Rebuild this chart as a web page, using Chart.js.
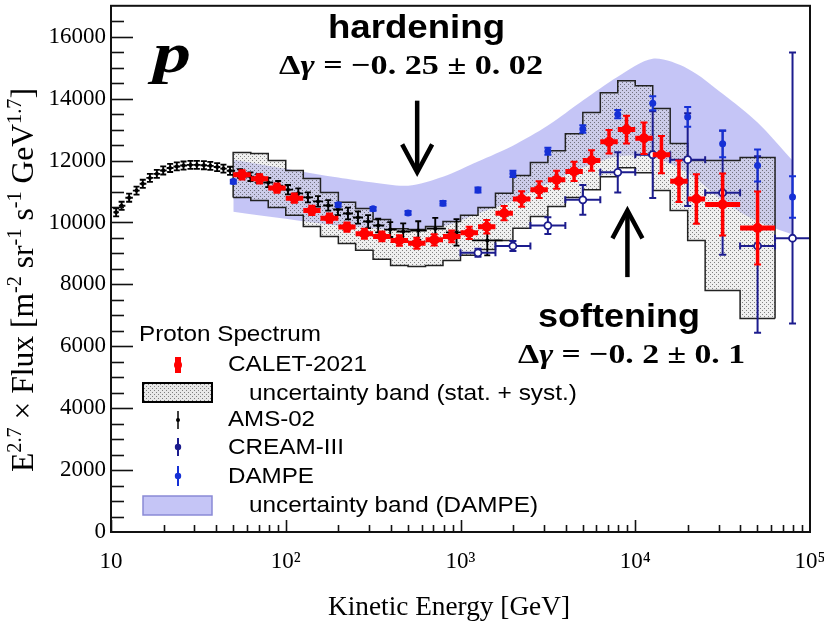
<!DOCTYPE html>
<html>
<head>
<meta charset="utf-8">
<title>Proton Spectrum</title>
<script src="https://cdn.jsdelivr.net/npm/chart.js@4.4.1/dist/chart.umd.min.js"></script>
<style>
  html, body { margin: 0; padding: 0; background: #fff; }
  canvas { display: block; }
</style>
</head>
<body>
<canvas id="spectrum" width="824" height="622"></canvas>
<script>
// values: kinetic energy in GeV, E^2.7 x flux
var amsEnergy = [10.7, 11.5, 12.7, 14.0, 15.2, 16.7, 18.3, 19.9, 21.8, 23.8, 26, 28.5, 31, 34, 37, 40.5, 44, 48,
  54.8, 62.8, 69.6, 79.4, 90.5, 103, 118, 134, 153, 175, 199, 227, 259, 296, 338, 396, 470, 573, 717, 949, 1423];
var amsFlux = [10330, 10540, 10800, 11030, 11250, 11440, 11570, 11680, 11760, 11810, 11840, 11860, 11860, 11850, 11830, 11790, 11740, 11670,
  11580, 11480, 11420, 11290, 11190, 11060, 10940, 10810, 10680, 10550, 10420, 10290, 10160, 10030, 9900, 9770, 9710, 9740, 9800, 9680, 9420];
var amsErr = [130, 130, 130, 130, 130, 130, 130, 130, 130, 130, 130, 130, 130, 130, 130, 130, 130, 130,
  140, 140, 140, 150, 150, 150, 160, 160, 170, 170, 180, 190, 200, 210, 220, 240, 260, 300, 350, 430, 480];

var caletEnergy = [56.2, 70.8, 89.1, 112, 141, 178, 224, 282, 355, 447, 562, 708, 891, 1122, 1413, 1778, 2239,
  2818, 3548, 4467, 5623, 7079, 8913, 11220, 14125, 17783, 22387, 31623, 50119];
var caletFlux = [11540, 11410, 11110, 10785, 10390, 10140, 9850, 9635, 9550, 9420, 9330, 9440, 9550, 9665, 9860, 10300, 10760,
  11060, 11380, 11650, 12000, 12610, 13000, 12720, 12190, 11330, 10760, 10580, 9820];
var caletErr = [150, 150, 150, 150, 150, 150, 150, 160, 160, 170, 180, 180, 190, 200, 220, 230, 250,
  270, 290, 310, 330, 380, 450, 510, 600, 670, 800, 1000, 1180];
var caletEdges = [50, 63.1, 79.4, 100, 126, 158, 200, 251, 316, 398, 501, 631, 794, 1000, 1259, 1585, 1995, 2512,
  3162, 3981, 5012, 6310, 7943, 10000, 12589, 15849, 19953, 25119, 39811, 63096];
var caletBandHigh = [12260, 12230, 12000, 11680, 11420, 10970, 10650, 10450, 10100, 9800, 9770, 9870, 10030, 10230, 10480, 10940, 11520,
  11940, 12320, 12870, 13550, 14190, 14580, 14420, 13680, 12550, 12000, 12000, 12100];
var caletBandLow = [10810, 10710, 10480, 10230, 9870, 9550, 9320, 9100, 8810, 8610, 8580, 8610, 8770, 8940, 9130, 9420, 9810,
  10190, 10520, 10810, 11060, 11480, 11770, 11610, 11030, 10390, 9420, 7800, 6900];

var creamEnergy = [1259, 1995, 3162, 5012, 7943, 12589, 19953, 31623, 50119, 79433];
var creamEdges = [1000, 1585, 2512, 3981, 6310, 10000, 15849, 25119, 39811, 63096, 100000];
var creamFlux = [9020, 9240, 9900, 10730, 11620, 12190, 12030, 10960, 9240, 9490];
var creamErrLow = [130, 160, 270, 480, 650, 1400, 1500, 2000, 2800, 2750];
var creamErrHigh = [130, 160, 270, 480, 650, 1400, 1500, 2000, 2900, 6000];

var dampeEnergy = [50.1, 199.5, 316, 501, 794, 1259, 1995, 3162, 5012, 7943, 12589, 19953, 31623, 50119, 79433];
var dampeFlux = [11320, 10570, 10440, 10310, 10620, 11050, 11570, 12300, 13020, 13500, 13850, 13410, 12540, 11840, 10820];
var dampeErr = [60, 60, 60, 60, 70, 80, 100, 110, 120, 130, 225, 320, 430, 520, 670];
var dampeBandHigh = [12030, 11450, 11290, 11190, 11480, 11970, 12480, 13130, 13940, 14710, 15290, 14970, 14160, 13230, 12000];
var dampeBandLow = [10350, 9900, 9810, 9740, 9870, 10290, 10710, 11260, 11770, 12130, 12100, 11610, 10710, 10030, 9610];

var xTicks = [10, 100, 1000, 10000, 100000];
var xTickLabels = ['10', '10²', '10³', '10⁴', '10⁵'];
var yTicks = [0, 2000, 4000, 6000, 8000, 10000, 12000, 14000, 16000];

var SERIF = "'Liberation Serif', 'Times New Roman', serif";
var SANS = "'Liberation Sans', Arial, sans-serif";
var RED = '#ff0000';
var CREAM_BLUE = '#1c1c8e';
var DAMPE_BLUE = '#1530d6';
var DAMPE_FILL = 'rgba(140, 140, 238, 0.5)';

var canvas = document.getElementById('spectrum');
var ctx0 = canvas.getContext('2d');

function dotPattern() {
  var c = document.createElement('canvas');
  c.width = 4; c.height = 4;
  var g = c.getContext('2d');
  g.fillStyle = 'rgba(215,215,215,0.4)';
  g.fillRect(0, 0, 4, 4);
  g.fillStyle = 'rgba(40,40,40,0.55)';
  g.fillRect(0, 0, 1, 1);
  g.fillRect(2, 2, 1, 1);
  return ctx0.createPattern(c, 'repeat');
}
var bandPattern = dotPattern();

function pts(xs, ys) {
  return xs.map(function (x, i) { return { x: x, y: ys[i] }; });
}

// horizontal extent of AMS bins: halfway (in log) to the neighbouring points
var amsLo = amsEnergy.map(function (e, i) {
  var prev = i > 0 ? amsEnergy[i - 1] : e * e / amsEnergy[i + 1];
  return Math.sqrt(prev * e);
});
var amsHi = amsEnergy.map(function (e, i) {
  var next = i < amsEnergy.length - 1 ? amsEnergy[i + 1] : e * e / amsEnergy[i - 1];
  return Math.sqrt(next * e);
});

var caletUpper = [{ x: caletEdges[0], y: caletBandLow[0] }];
caletBandHigh.forEach(function (v, i) { caletUpper.push({ x: caletEdges[i], y: v }); });
caletUpper.push({ x: caletEdges[caletEdges.length - 1], y: caletBandHigh[caletBandHigh.length - 1] });
caletUpper.push({ x: caletEdges[caletEdges.length - 1], y: caletBandLow[caletBandLow.length - 1] });
var caletLower = caletBandLow.map(function (v, i) { return { x: caletEdges[i], y: v }; });
caletLower.push({ x: caletEdges[caletEdges.length - 1], y: caletBandLow[caletBandLow.length - 1] });

function line(ctx, x1, y1, x2, y2) {
  ctx.beginPath(); ctx.moveTo(x1, y1); ctx.lineTo(x2, y2); ctx.stroke();
}

var errorBars = {
  id: 'errorBars',
  beforeDatasetDraw: function (chart, args) {
    var ds = chart.data.datasets[args.index];
    var e = ds.err;
    if (!e) return;
    var xs = chart.scales.x, ys = chart.scales.y, a = chart.chartArea, ctx = chart.ctx;
    ctx.save();
    ctx.beginPath(); ctx.rect(a.left, a.top, a.right - a.left, a.bottom - a.top); ctx.clip();
    ctx.strokeStyle = e.color;
    ctx.lineCap = 'butt';
    ds.data.forEach(function (p, i) {
      var px = xs.getPixelForValue(p.x), py = ys.getPixelForValue(p.y);
      var y1 = ys.getPixelForValue(p.y - e.lo[i]), y2 = ys.getPixelForValue(p.y + e.hi[i]);
      ctx.lineWidth = e.vw;
      line(ctx, px, y1, px, y2);
      if (e.cap) {
        ctx.lineWidth = e.capw || 1.5;
        line(ctx, px - e.cap, y1, px + e.cap, y1);
        line(ctx, px - e.cap, y2, px + e.cap, y2);
      }
      if (e.xlo) {
        var x1 = xs.getPixelForValue(e.xlo[i]), x2 = xs.getPixelForValue(e.xhi[i]);
        ctx.lineWidth = e.hw;
        line(ctx, x1, py, x2, py);
        if (e.hcap) {
          ctx.lineWidth = e.capw || 1.5;
          line(ctx, x1, py - e.hcap, x1, py + e.hcap);
          line(ctx, x2, py - e.hcap, x2, py + e.hcap);
        }
      }
    });
    ctx.restore();
  }
};

function drawRich(ctx, parts, x, y, width, align, angle) {
  ctx.save();
  var total = 0;
  parts.forEach(function (p) { ctx.font = p.f; p.w = ctx.measureText(p.t).width; total += p.w; });
  var sx = width ? width / total : 1;
  ctx.translate(x, y);
  if (angle) ctx.rotate(angle);
  ctx.scale(sx, 1);
  var cx = align === 'center' ? -total / 2 : (align === 'right' ? -total : 0);
  ctx.textAlign = 'left';
  ctx.textBaseline = 'alphabetic';
  ctx.fillStyle = '#000';
  parts.forEach(function (p) { ctx.font = p.f; ctx.fillText(p.t, cx, p.dy || 0); cx += p.w; });
  ctx.restore();
}

function text(ctx, t, x, y, width, font, align) {
  drawRich(ctx, [{ t: t, f: font }], x, y, width, align);
}

var frame = {
  id: 'frame',
  afterDraw: function (chart) {
    var a = chart.chartArea, ctx = chart.ctx, xs = chart.scales.x, ys = chart.scales.y;
    ctx.save();
    ctx.strokeStyle = '#111';
    ctx.lineWidth = 2;
    ctx.strokeRect(a.left, a.top, a.right - a.left, a.bottom - a.top);
    ctx.lineWidth = 1.6;
    for (var v = 500; v < ys.max; v += 500) {
      var py = Math.round(ys.getPixelForValue(v)) + 0.5;
      line(ctx, a.left, py, a.left + (v % 2000 === 0 ? 22 : 13), py);
    }
    for (var d = 10; d < xs.max; d *= 10) {
      for (var m = 1; m <= 9; m++) {
        var px = Math.round(xs.getPixelForValue(m * d)) + 0.5;
        line(ctx, px, a.bottom, px, a.bottom - (m === 1 ? 12 : 7));
      }
    }
    ctx.restore();
  }
};

var titles = {
  id: 'titles',
  afterDraw: function (chart) {
    var ctx = chart.ctx;
    var big = '31px ' + SERIF, sup = '20px ' + SERIF;
    drawRich(ctx, [
      { t: 'E', f: big }, { t: '2.7', f: sup, dy: -12 }, { t: ' × Flux [m', f: big }, { t: '-2', f: sup, dy: -12 },
      { t: ' sr', f: big }, { t: '-1', f: sup, dy: -12 }, { t: ' s', f: big }, { t: '-1', f: sup, dy: -12 },
      { t: ' GeV', f: big }, { t: '1.7', f: sup, dy: -12 }, { t: ']', f: big }
    ], 33, 280, 384, 'center', -Math.PI / 2);
    text(ctx, 'Kinetic Energy [GeV]', 449, 615, 242, '27px ' + SERIF, 'center');
  }
};

// arrows point at the spectral features, placed in data coordinates
var arrows = [
  { e: 565, from: 13935, to: 11620 },
  { e: 9020, from: 8235, to: 10390 }
];

var notes = {
  id: 'notes',
  afterDraw: function (chart) {
    var ctx = chart.ctx, xs = chart.scales.x, ys = chart.scales.y;
    text(ctx, 'p', 153, 72, 38, 'bold italic 56px ' + SERIF, 'left');
    text(ctx, 'hardening', 416.5, 38, 177, 'bold 34px ' + SANS, 'center');
    text(ctx, 'softening', 619, 327, 162, 'bold 34px ' + SANS, 'center');
    var b = 'bold 28px ' + SERIF, bi = 'bold italic 28px ' + SERIF;
    drawRich(ctx, [{ t: 'Δ', f: b }, { t: 'γ', f: bi }, { t: ' = −0. 25 ± 0. 02', f: b }], 411, 74, 264, 'center');
    drawRich(ctx, [{ t: 'Δ', f: b }, { t: 'γ', f: bi }, { t: ' = −0. 2 ± 0. 1', f: b }], 631.5, 363, 227, 'center');

    ctx.save();
    ctx.strokeStyle = '#000';
    ctx.lineWidth = 4.5;
    ctx.lineJoin = 'miter';
    arrows.forEach(function (ar) {
      var px = xs.getPixelForValue(ar.e);
      var y0 = ys.getPixelForValue(ar.from), y1 = ys.getPixelForValue(ar.to);
      var dir = y1 > y0 ? 1 : -1;
      line(ctx, px, y0, px, y1 - dir * 2);
      ctx.beginPath();
      ctx.moveTo(px - 15, y1 - dir * 28);
      ctx.lineTo(px, y1);
      ctx.lineTo(px + 15, y1 - dir * 28);
      ctx.stroke();
    });
    ctx.restore();
  }
};

var legendBox = {
  id: 'legendBox',
  afterDraw: function (chart) {
    var ctx = chart.ctx, f = '22px ' + SANS;
    text(ctx, 'Proton Spectrum', 139, 341, 182, f, 'left');
    text(ctx, 'CALET-2021', 228, 370.5, 139, f, 'left');
    text(ctx, 'uncertainty band (stat. + syst.)', 249, 400, 328, f, 'left');
    text(ctx, 'AMS-02', 228, 426, 87, f, 'left');
    text(ctx, 'CREAM-III', 228, 454, 116, f, 'left');
    text(ctx, 'DAMPE', 228, 482.5, 86, f, 'left');
    text(ctx, 'uncertainty band (DAMPE)', 249, 511.5, 289, f, 'left');

    ctx.save();
    // CALET marker
    ctx.fillStyle = RED;
    ctx.fillRect(175, 357, 6, 16);
    ctx.beginPath(); ctx.arc(178, 365, 4, 0, Math.PI * 2); ctx.fill();
    // CALET band
    ctx.fillStyle = '#f4f4f4';
    ctx.fillRect(143, 383, 69, 19);
    ctx.fillStyle = bandPattern;
    ctx.fillRect(143, 383, 69, 19);
    ctx.strokeStyle = '#000'; ctx.lineWidth = 2;
    ctx.strokeRect(143, 383, 69, 19);
    // AMS
    ctx.strokeStyle = '#000'; ctx.lineWidth = 1.5;
    line(ctx, 178, 411, 178, 429);
    ctx.fillStyle = '#000';
    ctx.beginPath(); ctx.arc(178, 420, 2, 0, Math.PI * 2); ctx.fill();
    // CREAM
    ctx.strokeStyle = CREAM_BLUE; ctx.lineWidth = 2;
    line(ctx, 178, 438, 178, 456);
    ctx.fillStyle = CREAM_BLUE;
    ctx.beginPath(); ctx.arc(178, 447, 3.2, 0, Math.PI * 2); ctx.fill();
    // DAMPE
    ctx.strokeStyle = DAMPE_BLUE;
    line(ctx, 178, 466, 178, 486);
    ctx.fillStyle = DAMPE_BLUE;
    ctx.beginPath(); ctx.arc(178, 476, 3.2, 0, Math.PI * 2); ctx.fill();
    // DAMPE band
    ctx.fillStyle = DAMPE_FILL;
    ctx.fillRect(143, 496, 69, 19);
    ctx.strokeStyle = '#8a8ad6'; ctx.lineWidth = 1.5;
    ctx.strokeRect(143, 496, 69, 19);
    ctx.restore();
  }
};

var datasets = [
  {
    label: 'CALET-2021',
    data: pts(caletEnergy, caletFlux),
    pointRadius: 5, backgroundColor: RED, borderWidth: 0,
    err: { color: RED, lo: caletErr, hi: caletErr, vw: 3.5, cap: 3.5, capw: 2,
      xlo: caletEdges.slice(0, -1), xhi: caletEdges.slice(1), hw: 5 }
  },
  {
    label: 'DAMPE',
    data: pts(dampeEnergy, dampeFlux),
    pointRadius: 3.5, backgroundColor: DAMPE_BLUE, borderWidth: 0,
    err: { color: DAMPE_BLUE, lo: dampeErr, hi: dampeErr, vw: 2, cap: 3.5, capw: 2 }
  },
  {
    label: 'CREAM-III',
    data: pts(creamEnergy, creamFlux),
    pointRadius: 3.5, backgroundColor: '#fff', borderColor: CREAM_BLUE, borderWidth: 1.8,
    err: { color: CREAM_BLUE, lo: creamErrLow, hi: creamErrHigh, vw: 2, cap: 3.5, capw: 2,
      xlo: creamEdges.slice(0, -1), xhi: creamEdges.slice(1), hw: 2, hcap: 3.5 }
  },
  {
    label: 'AMS-02',
    data: pts(amsEnergy, amsFlux),
    pointRadius: 2, backgroundColor: '#000', borderWidth: 0,
    err: { color: '#000', lo: amsErr, hi: amsErr, vw: 1.9, cap: 3, capw: 1.8, xlo: amsLo, xhi: amsHi, hw: 1.9 }
  },
  {
    label: 'CALET band low',
    data: caletLower, showLine: true, stepped: 'before', pointRadius: 0,
    borderColor: '#222', borderWidth: 1.5, fill: false
  },
  {
    label: 'CALET band high',
    data: caletUpper, showLine: true, stepped: 'before', pointRadius: 0,
    borderColor: '#222', borderWidth: 1.5, fill: 4, backgroundColor: bandPattern
  },
  {
    label: 'DAMPE band low',
    data: pts(dampeEnergy, dampeBandLow), showLine: true, pointRadius: 0, tension: 0.3,
    borderColor: 'rgba(0,0,0,0)', borderWidth: 1, fill: false
  },
  {
    label: 'DAMPE band high',
    data: pts(dampeEnergy, dampeBandHigh), showLine: true, pointRadius: 0, tension: 0.3,
    borderColor: 'rgba(0,0,0,0)', borderWidth: 1, fill: 6, backgroundColor: DAMPE_FILL
  }
];

function noOverhang(s) {
  s.paddingLeft = 0; s.paddingRight = 0; s.paddingTop = 0; s.paddingBottom = 0;
}

var chart = new Chart(canvas, {
  type: 'scatter',
  data: { datasets: datasets },
  options: {
    responsive: false,
    devicePixelRatio: 1,
    animation: false,
    events: [],
    layout: { padding: { top: 5, right: 14, left: 0, bottom: 0 } },
    plugins: { legend: { display: false }, tooltip: { enabled: false } },
    scales: {
      x: {
        type: 'logarithmic',
        min: 10, max: 100000,
        afterBuildTicks: function (s) { s.ticks = xTicks.map(function (v) { return { value: v }; }); },
        afterFit: function (s) { s.height = 90; noOverhang(s); },
        ticks: {
          autoSkip: false, maxRotation: 0, padding: 16, color: '#000',
          font: { family: SERIF, size: 23 },
          callback: function (v) { return xTickLabels[xTicks.indexOf(v)]; }
        },
        grid: { display: false, drawTicks: false },
        border: { display: true, color: '#111', width: 2 }
      },
      y: {
        min: 0, max: 17000,
        afterBuildTicks: function (s) { s.ticks = yTicks.map(function (v) { return { value: v }; }); },
        afterFit: function (s) { s.width = 111; noOverhang(s); },
        ticks: {
          padding: 5, color: '#000',
          font: { family: SERIF, size: 23 },
          callback: function (v) { return String(v); }
        },
        grid: { display: false, drawTicks: false },
        border: { display: true, color: '#111', width: 2 }
      }
    }
  },
  plugins: [errorBars, frame, titles, notes, legendBox]
});
</script>
</body>
</html>
